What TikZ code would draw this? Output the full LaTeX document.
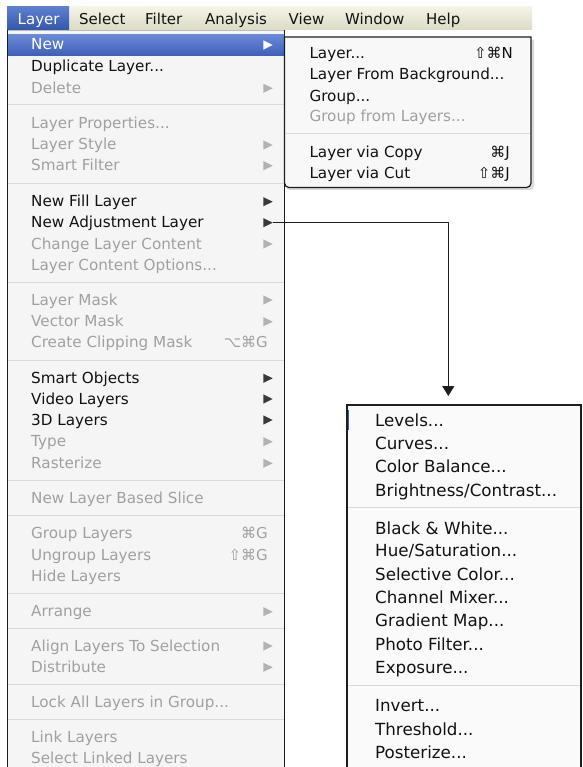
\documentclass[tikz,border=0pt]{standalone}
\usepackage{fontspec}
\setmainfont{DejaVu Sans}
\usetikzlibrary{arrows.meta}
\definecolor{txt}{HTML}{121212}
\definecolor{dim}{HTML}{A0A0A0}
\definecolor{tridark}{HTML}{3A3A3A}
\definecolor{trilight}{HTML}{B2B2B2}
\definecolor{sepc}{HTML}{D9D9D9}
\definecolor{panel}{HTML}{F5F5F5}
\definecolor{bordc}{HTML}{1E1E1E}
\definecolor{bartop}{HTML}{F4F3E6}
\definecolor{barbot}{HTML}{DCDBC6}
\definecolor{seltop}{HTML}{5C7FD2}
\definecolor{selbot}{HTML}{3456AB}
\definecolor{newtop}{HTML}{6A88D8}
\definecolor{newbot}{HTML}{3E5EB9}
\definecolor{barline}{HTML}{BDBDBD}
\definecolor{subfill}{HTML}{F8F8F8}
\definecolor{subfillb}{HTML}{FAFAFA}
\definecolor{selmark}{HTML}{3A5CB5}
\newcommand\tri[2]{\fill[#1] (263.3,#2-9.6) -- (263.3,#2-0.4) -- (272.7,#2-5) -- cycle;}
\begin{document}
\begin{tikzpicture}[x=1pt,y=-1pt,
  mitem/.style={anchor=base west, inner sep=0pt, text=txt, font=\fontsize{15.2}{17}\selectfont},
  sitem/.style={anchor=base west, inner sep=0pt, text=txt, font=\fontsize{16.7}{19}\selectfont},
  dimt/.style={text=dim},
  keys/.style={anchor=base east, inner sep=0pt, font=\fontsize{15}{17}\selectfont},
  bar/.style={anchor=base west, inner sep=0pt, text=txt, font=\fontsize{15}{17}\selectfont},
  sepline/.style={draw=sepc, line width=1pt},
  connector/.style={draw=bordc, line width=1.3pt, -{Triangle[width=12pt,length=10pt]}}
]
\useasboundingbox (0,0) rectangle (582,767);
\fill[white] (0,0) rectangle (582,767);

% menu bar
\shade[top color=bartop, bottom color=barbot] (7,7) rectangle (532,30);
\shade[top color=seltop, bottom color=selbot] (7,7) rectangle (69,30);
\node[bar, text=white] (bLayer) at (17.5,24.5) {Layer};
\node[bar] (bSelect) at (79,24.5) {Select};
\node[bar] (bFilter) at (145,24.5) {Filter};
\node[bar] (bAnalysis) at (205,24.5) {Analysis};
\node[bar] (bView) at (288.5,24.5) {View};
\node[bar] (bWindow) at (345,24.5) {Window};
\node[bar] (bHelp) at (426,24.5) {Help};

% main menu panel
\fill[panel] (7,30) rectangle (285,767);
\draw[barline, line width=0.8pt] (7,30.5) -- (285,30.5);
\draw[bordc, line width=1pt] (7.3,30) -- (7.3,767);
\draw[bordc, line width=1pt] (284.8,30) -- (284.8,767);
\shade[top color=newtop, bottom color=newbot] (8,35) rectangle (284,56);

% separators
\foreach \y in {105,183.3,282.3,360,480.7,515.7,593.3,628.3,684.3,719.3}
  \draw[sepline] (8,\y) -- (284,\y);

% items
\node[mitem, text=white] (mNew) at (31,50) {New};
\node[mitem] (mDup) at (31,72) {Duplicate Layer...};
\node[mitem, dimt] (mDel) at (31,93.3) {Delete};
\node[mitem, dimt] (mProp) at (31,128.3) {Layer Properties...};
\node[mitem, dimt] (mStyle) at (31,150) {Layer Style};
\node[mitem, dimt] (mSmartF) at (31,170.7) {Smart Filter};
\node[mitem] (mFill) at (31,206.7) {New Fill Layer};
\node[mitem] (mAdj) at (31,227.7) {New Adjustment Layer};
\node[mitem, dimt] (mChange) at (31,249) {Change Layer Content};
\node[mitem, dimt] (mOpts) at (31,270.7) {Layer Content Options...};
\node[mitem, dimt] (mLMask) at (31,305) {Layer Mask};
\node[mitem, dimt] (mVMask) at (31,326.7) {Vector Mask};
\node[mitem, dimt] (mClip) at (31,347.7) {Create Clipping Mask};
\node[mitem] (mSmartO) at (31,383.3) {Smart Objects};
\node[mitem] (mVideo) at (31,404) {Video Layers};
\node[mitem] (m3D) at (31,425) {3D Layers};
\node[mitem, dimt] (mType) at (31,446.7) {Type};
\node[mitem, dimt] (mRaster) at (31,468.3) {Rasterize};
\node[mitem, dimt] (mSlice) at (31,503.3) {New Layer Based Slice};
\node[mitem, dimt] (mGroup) at (31,538.3) {Group Layers};
\node[mitem, dimt] (mUngroup) at (31,560) {Ungroup Layers};
\node[mitem, dimt] (mHide) at (31,581.7) {Hide Layers};
\node[mitem, dimt] (mArrange) at (31,616.7) {Arrange};
\node[mitem, dimt] (mAlign) at (31,651) {Align Layers To Selection};
\node[mitem, dimt] (mDistr) at (31,672.3) {Distribute};
\node[mitem, dimt] (mLock) at (31,707.7) {Lock All Layers in Group...};
\node[mitem, dimt] (mLink) at (31,742.3) {Link Layers};
\node[mitem, dimt] (mSelLink) at (31,763.3) {Select Linked Layers};

% shortcuts
\node[keys, text=dim] (kClip) at (268,347.7) {⌥⌘G};
\node[keys, text=dim] (kGroup) at (268,538.3) {⌘G};
\node[keys, text=dim] (kUngroup) at (268,560) {⇧⌘G};

% submenu triangles
\tri{white}{50}
\tri{trilight}{93.3}
\tri{trilight}{150}
\tri{trilight}{170.7}
\tri{tridark}{206.7}
\tri{tridark}{227.7}
\tri{trilight}{249}
\tri{trilight}{305}
\tri{trilight}{326.7}
\tri{tridark}{383.3}
\tri{tridark}{404}
\tri{tridark}{425}
\tri{trilight}{446.7}
\tri{trilight}{468.3}
\tri{trilight}{616.7}
\tri{trilight}{651}
\tri{trilight}{672.3}
\coordinate (adjTip) at (272.7,222.7);

% submenu 1 (New)
\fill[black, opacity=0.15] (286,40) -- (534,40) -- (534,186) arc[start angle=0, end angle=90, radius=4] -- (290,190) arc[start angle=90,end angle=180,radius=4] -- cycle;
\filldraw[fill=subfill, draw=bordc, line width=1.2pt]
  (284.5,37) -- (531,37) -- (531,183) arc[start angle=0, end angle=90, radius=4.5] -- (289,187.5) arc[start angle=90, end angle=180, radius=4.5] -- cycle;
\draw[sepline] (285.5,133.3) -- (530,133.3);
\node[mitem] (sLayer) at (309.3,58.3) {Layer...};
\node[mitem] (sFromBg) at (309.3,80) {Layer From Background...};
\node[mitem] (sGroup) at (309.3,101.7) {Group...};
\node[mitem, dimt] (sGroupFrom) at (309.3,121.7) {Group from Layers...};
\node[mitem] (sCopy) at (309.3,157.3) {Layer via Copy};
\node[mitem] (sCut) at (309.3,178.3) {Layer via Cut};
\node[keys, text=txt] (kLayer) at (513,58.3) {⇧⌘N};
\node[keys, text=txt] (kCopy) at (510,157.3) {⌘J};
\node[keys, text=txt] (kCut) at (510,178.3) {⇧⌘J};

% submenu 2 (New Adjustment Layer)
\fill[subfillb] (347,405) rectangle (581,767);
\draw[bordc, line width=1.2pt] (347,767) -- (347,405) -- (581,405) -- (581,767);
\draw[selmark, line width=1.2pt] (348.6,410) -- (348.6,430);
\draw[sepline] (348,507.7) -- (580,507.7);
\draw[sepline] (348,685) -- (580,685);
\node[sitem] (aLevels) at (375,426) {Levels...};
\node[sitem] (aCurves) at (375,449.3) {Curves...};
\node[sitem] (aColBal) at (375,472.7) {Color Balance...};
\node[sitem] (aBright) at (375,496) {Brightness/Contrast...};
\node[sitem] (aBW) at (375,534) {Black \& White...};
\node[sitem] (aHue) at (375,556.7) {Hue/Saturation...};
\node[sitem] (aSel) at (375,580) {Selective Color...};
\node[sitem] (aChan) at (375,603.3) {Channel Mixer...};
\node[sitem] (aGrad) at (375,626.7) {Gradient Map...};
\node[sitem] (aPhoto) at (375,650) {Photo Filter...};
\node[sitem] (aExpo) at (375,673.3) {Exposure...};
\node[sitem] (aInv) at (375,711.7) {Invert...};
\node[sitem] (aThr) at (375,735) {Threshold...};
\node[sitem] (aPost) at (375,758.3) {Posterize...};
\coordinate (adjEnd) at (448.3,396);

% connector
\draw[connector] (adjTip) -| (adjEnd);
\end{tikzpicture}
\end{document}
